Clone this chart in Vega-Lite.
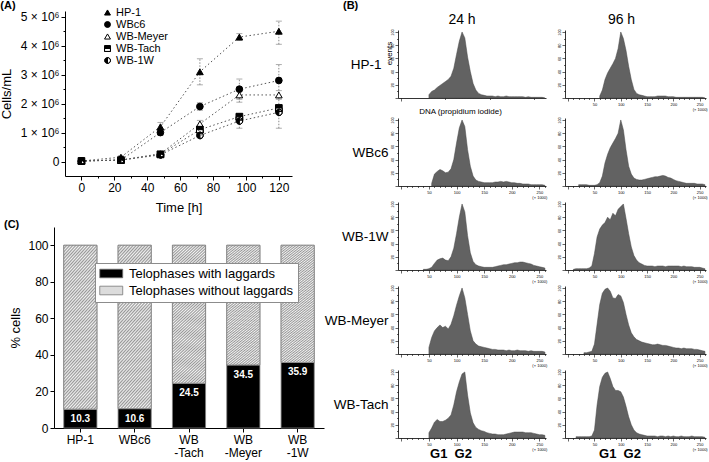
{
"$schema": "https://vega.github.io/schema/vega-lite/v6.json",
"padding": {"left": 0, "top": 0, "right": 0, "bottom": 0},
"spacing": 0,
"resolve": {"scale": {"fill": "independent", "shape": "independent", "stroke": "independent"}, "legend": {"fill": "independent", "shape": "independent", "stroke": "independent"}},
"config": {
  "font": "Liberation Sans",
  "view": {"stroke": null},
  "title": {"color": "black", "fontWeight": "normal"},
  "axis": {"grid": false, "labelOverlap": false, "domainColor": "black", "tickColor": "black", "labelColor": "black", "titleColor": "black", "titleFontWeight": "normal", "labelFont": "Liberation Sans", "titleFont": "Liberation Sans"}
},
"hconcat": [
{
  "title": {"text": "(A)", "anchor": "start", "fontSize": 11, "fontWeight": "bold", "offset": -4},
  "spacing": 5,
  "resolve": {"scale": {"fill": "independent", "shape": "independent", "stroke": "independent"}, "legend": {"fill": "independent", "shape": "independent", "stroke": "independent"}},
  "vconcat": [
  {
    "width": 238, "height": 165,
    "data": {"values": [
      {"s":"HP-1","t":0,"v":0.02,"lo":0,"hi":0.05},
      {"s":"HP-1","t":24,"v":0.15,"lo":0.1,"hi":0.2},
      {"s":"HP-1","t":48,"v":1.2,"lo":1.05,"hi":1.35},
      {"s":"HP-1","t":72,"v":3.1,"lo":2.65,"hi":3.55},
      {"s":"HP-1","t":96,"v":4.3,"lo":4.18,"hi":4.42},
      {"s":"HP-1","t":120,"v":4.5,"lo":4.05,"hi":4.85},
      {"s":"WBc6","t":0,"v":0.02,"lo":0,"hi":0.04},
      {"s":"WBc6","t":24,"v":0.05,"lo":0.02,"hi":0.08},
      {"s":"WBc6","t":48,"v":1.0,"lo":0.9,"hi":1.1},
      {"s":"WBc6","t":72,"v":1.9,"lo":1.77,"hi":2.03},
      {"s":"WBc6","t":96,"v":2.5,"lo":2.15,"hi":2.85},
      {"s":"WBc6","t":120,"v":2.8,"lo":2.25,"hi":3.35},
      {"s":"WB-Meyer","t":0,"v":0.02,"lo":0,"hi":0.04},
      {"s":"WB-Meyer","t":24,"v":0.05,"lo":0.02,"hi":0.08},
      {"s":"WB-Meyer","t":48,"v":0.27,"lo":0.2,"hi":0.34},
      {"s":"WB-Meyer","t":72,"v":1.3,"lo":1.2,"hi":1.42},
      {"s":"WB-Meyer","t":96,"v":2.3,"lo":2.05,"hi":2.5},
      {"s":"WB-Meyer","t":120,"v":2.3,"lo":2.15,"hi":2.45},
      {"s":"WB-Tach","t":0,"v":0.02,"lo":0,"hi":0.04},
      {"s":"WB-Tach","t":24,"v":0.05,"lo":0.02,"hi":0.08},
      {"s":"WB-Tach","t":48,"v":0.25,"lo":0.2,"hi":0.3},
      {"s":"WB-Tach","t":72,"v":1.1,"lo":1.0,"hi":1.2},
      {"s":"WB-Tach","t":96,"v":1.55,"lo":1.45,"hi":1.65},
      {"s":"WB-Tach","t":120,"v":1.85,"lo":1.75,"hi":1.95},
      {"s":"WB-1W","t":0,"v":0.02,"lo":0,"hi":0.04},
      {"s":"WB-1W","t":24,"v":0.05,"lo":0.02,"hi":0.08},
      {"s":"WB-1W","t":48,"v":0.23,"lo":0.17,"hi":0.29},
      {"s":"WB-1W","t":72,"v":0.9,"lo":0.82,"hi":0.98},
      {"s":"WB-1W","t":96,"v":1.4,"lo":1.15,"hi":1.65},
      {"s":"WB-1W","t":120,"v":1.7,"lo":1.15,"hi":2.2}
    ]},
    "encoding": {
      "x": {"field": "t", "type": "quantitative", "scale": {"domain": [-10, 128], "range": [11, 238], "nice": false, "zero": false},
        "axis": {"title": "Time [h]", "values": [0,10,20,30,40,50,60,70,80,90,100,110,120], "labelExpr": "datum.value % 20 == 0 ? datum.label : ''", "tickSize": {"condition": {"test": "datum.value % 20 == 0", "value": 4}, "value": 2}, "labelFontSize": 12, "titleFontSize": 13, "labelPadding": 2, "titlePadding": 8, "labelFlush": false}}
    },
    "layer": [
      {"mark": {"type": "line", "stroke": "#555555", "strokeWidth": 1, "strokeDash": [1.5, 2.5]},
       "encoding": {
         "y": {"field": "v", "type": "quantitative", "scale": {"domain": [-0.5, 5.2], "nice": false, "zero": false},
           "axis": {"title": "Cells/mL", "offset": -11, "values": [0,0.5,1,1.5,2,2.5,3,3.5,4,4.5,5], "labelExpr": "datum.value == 0 ? '0' : (datum.value % 1 == 0 ? datum.value + ' \u00d7 10\u2076' : '')", "tickSize": {"condition": {"test": "datum.value % 1 == 0", "value": 4}, "value": 2}, "labelFontSize": 12, "titleFontSize": 13, "labelPadding": 2, "titlePadding": 7, "labelFlush": false, "labelOverlap": {"expr": "false"}}},
         "detail": {"field": "s", "type": "nominal"}
       }},
      {"mark": {"type": "rule", "stroke": "#8a8a8a", "strokeWidth": 1, "strokeDash": [1.5, 1.5]},
       "encoding": {"y": {"field": "lo", "type": "quantitative",
           "axis": {"title": "Cells/mL", "offset": -11, "values": [0,0.5,1,1.5,2,2.5,3,3.5,4,4.5,5], "labelExpr": "datum.value == 0 ? '0' : (datum.value % 1 == 0 ? datum.value + ' \u00d7 10\u2076' : '')", "tickSize": {"condition": {"test": "datum.value % 1 == 0", "value": 4}, "value": 2}, "labelFontSize": 12, "titleFontSize": 13, "labelPadding": 2, "titlePadding": 7, "labelFlush": false, "labelOverlap": {"expr": "false"}}}, "y2": {"field": "hi"}}},
      {"mark": {"type": "tick", "orient": "horizontal", "color": "#8a8a8a", "size": 6, "thickness": 1},
       "encoding": {"y": {"field": "lo", "type": "quantitative",
           "axis": {"title": "Cells/mL", "offset": -11, "values": [0,0.5,1,1.5,2,2.5,3,3.5,4,4.5,5], "labelExpr": "datum.value == 0 ? '0' : (datum.value % 1 == 0 ? datum.value + ' \u00d7 10\u2076' : '')", "tickSize": {"condition": {"test": "datum.value % 1 == 0", "value": 4}, "value": 2}, "labelFontSize": 12, "titleFontSize": 13, "labelPadding": 2, "titlePadding": 7, "labelFlush": false, "labelOverlap": {"expr": "false"}}}}},
      {"mark": {"type": "tick", "orient": "horizontal", "color": "#8a8a8a", "size": 6, "thickness": 1},
       "encoding": {"y": {"field": "hi", "type": "quantitative",
           "axis": {"title": "Cells/mL", "offset": -11, "values": [0,0.5,1,1.5,2,2.5,3,3.5,4,4.5,5], "labelExpr": "datum.value == 0 ? '0' : (datum.value % 1 == 0 ? datum.value + ' \u00d7 10\u2076' : '')", "tickSize": {"condition": {"test": "datum.value % 1 == 0", "value": 4}, "value": 2}, "labelFontSize": 12, "titleFontSize": 13, "labelPadding": 2, "titlePadding": 7, "labelFlush": false, "labelOverlap": {"expr": "false"}}}}},
      {"mark": {"type": "point", "strokeWidth": 1, "opacity": 1, "size": 45},
       "encoding": {
         "y": {"field": "v", "type": "quantitative",
           "axis": {"title": "Cells/mL", "offset": -11, "values": [0,0.5,1,1.5,2,2.5,3,3.5,4,4.5,5], "labelExpr": "datum.value == 0 ? '0' : (datum.value % 1 == 0 ? datum.value + ' \u00d7 10\u2076' : '')", "tickSize": {"condition": {"test": "datum.value % 1 == 0", "value": 4}, "value": 2}, "labelFontSize": 12, "titleFontSize": 13, "labelPadding": 2, "titlePadding": 7, "labelFlush": false, "labelOverlap": {"expr": "false"}}},
         "shape": {"field": "s", "type": "nominal",
           "scale": {"domain": ["HP-1","WBc6","WB-Meyer","WB-Tach","WB-1W"], "range": ["triangle-up","circle","triangle-up","M-1,-1L1,-1L1,1L-1,1Z M-1,0L-1,1L1,1L1,0Z","M0,-1A1,1,0,0,1,0,1A1,1,0,0,1,0,-1Z M0,-1L0,1A1,1,0,0,0,0,-1Z"]},
           "legend": {"title": null, "orient": "none", "legendX": 48, "legendY": -4, "labelFontSize": 11, "symbolSize": 35, "labelOffset": 3, "rowPadding": 0, "symbolStrokeWidth": 1}},
         "fill": {"field": "s", "type": "nominal",
           "scale": {"domain": ["HP-1","WBc6","WB-Meyer","WB-Tach","WB-1W"], "range": ["black","black","white","black","black"]},
           "legend": {"title": null, "orient": "none", "legendX": 48, "legendY": -4, "labelFontSize": 11, "symbolSize": 35, "labelOffset": 3, "rowPadding": 0, "symbolStrokeWidth": 1}},
         "stroke": {"field": "s", "type": "nominal",
           "scale": {"domain": ["HP-1","WBc6","WB-Meyer","WB-Tach","WB-1W"], "range": ["black","black","black","black","black"]},
           "legend": {"title": null, "orient": "none", "legendX": 48, "legendY": -4, "labelFontSize": 11, "symbolSize": 35, "labelOffset": 3, "rowPadding": 0, "symbolStrokeWidth": 1}}
       }}
    ]
  },
  {
    "title": {"text": "(C)", "anchor": "start", "fontSize": 11, "fontWeight": "bold", "offset": -3, "dx": -6},
    "width": 270, "height": 201,
    "data": {"values": [
      {"c":"HP-1","g":"Telophases with laggards","lo":0,"hi":10.3},
      {"c":"HP-1","g":"Telophases without laggards","lo":10.3,"hi":100},
      {"c":"WBc6","g":"Telophases with laggards","lo":0,"hi":10.6},
      {"c":"WBc6","g":"Telophases without laggards","lo":10.6,"hi":100},
      {"c":"WB|-Tach","g":"Telophases with laggards","lo":0,"hi":24.5},
      {"c":"WB|-Tach","g":"Telophases without laggards","lo":24.5,"hi":100},
      {"c":"WB|-Meyer","g":"Telophases with laggards","lo":0,"hi":34.5},
      {"c":"WB|-Meyer","g":"Telophases without laggards","lo":34.5,"hi":100},
      {"c":"WB|-1W","g":"Telophases with laggards","lo":0,"hi":35.9},
      {"c":"WB|-1W","g":"Telophases without laggards","lo":35.9,"hi":100}
    ]},
    "encoding": {
      "x": {"field": "c", "type": "nominal", "sort": null,
        "scale": {"domain": ["HP-1","WBc6","WB|-Tach","WB|-Meyer","WB|-1W"], "paddingInner": 0.39, "paddingOuter": 0.18},
        "axis": {"title": null, "labelExpr": "split(datum.label, '|')", "labelAngle": 0, "labelFontSize": 12, "labelLineHeight": 13, "tickSize": 4, "labelPadding": 2}}
    },
    "layer": [
      {"mark": {"type": "bar", "stroke": "#808080", "strokeWidth": 0.8},
       "encoding": {
         "y": {"field": "lo", "type": "quantitative", "scale": {"domain": [0, 110], "nice": false},
           "axis": {"title": "% cells", "values": [0,10,20,30,40,50,60,70,80,90,100,110], "labelExpr": "datum.value % 20 == 0 && datum.value <= 100 ? datum.label : ''", "tickSize": {"condition": {"test": "datum.value % 20 == 0", "value": 4}, "value": 2}, "labelFontSize": 12, "titleFontSize": 13, "labelPadding": 2, "titlePadding": 5}},
         "y2": {"field": "hi"},
         "fill": {"field": "g", "type": "nominal",
           "scale": {"domain": ["Telophases with laggards","Telophases without laggards"], "range": ["black","#dcdcdc"]},
           "legend": {"title": null, "orient": "none", "legendX": 41, "legendY": 36, "fillColor": "white", "strokeColor": "#8c8c8c", "padding": 4, "labelFontSize": 13, "symbolType": "M-1,-0.75L3,-0.75L3,0.75L-1,0.75Z", "symbolSize": 132, "labelOffset": 17, "rowPadding": 3, "symbolStrokeColor": "#777777", "symbolStrokeWidth": 0.8, "labelLimit": 300}}
       }},
      {"transform": [{"filter": "datum.g == 'Telophases without laggards'"}],
       "mark": {"type": "bar", "stroke": "#808080", "strokeWidth": 0.8,
         "fill": {"gradient": "linear", "x1": 0, "y1": 0, "x2": 0.259, "y2": 1.165, "stops": [
{"offset":0,"color":"#979797"},{"offset":0.0083,"color":"#f3f3f3"},{"offset":0.0167,"color":"#979797"},{"offset":0.025,"color":"#f3f3f3"},{"offset":0.0333,"color":"#979797"},{"offset":0.0417,"color":"#f3f3f3"},{"offset":0.05,"color":"#979797"},{"offset":0.0583,"color":"#f3f3f3"},{"offset":0.0667,"color":"#979797"},{"offset":0.075,"color":"#f3f3f3"},
{"offset":0.0833,"color":"#979797"},{"offset":0.0917,"color":"#f3f3f3"},{"offset":0.1,"color":"#979797"},{"offset":0.1083,"color":"#f3f3f3"},{"offset":0.1167,"color":"#979797"},{"offset":0.125,"color":"#f3f3f3"},{"offset":0.1333,"color":"#979797"},{"offset":0.1417,"color":"#f3f3f3"},{"offset":0.15,"color":"#979797"},{"offset":0.1583,"color":"#f3f3f3"},
{"offset":0.1667,"color":"#979797"},{"offset":0.175,"color":"#f3f3f3"},{"offset":0.1833,"color":"#979797"},{"offset":0.1917,"color":"#f3f3f3"},{"offset":0.2,"color":"#979797"},{"offset":0.2083,"color":"#f3f3f3"},{"offset":0.2167,"color":"#979797"},{"offset":0.225,"color":"#f3f3f3"},{"offset":0.2333,"color":"#979797"},{"offset":0.2417,"color":"#f3f3f3"},
{"offset":0.25,"color":"#979797"},{"offset":0.2583,"color":"#f3f3f3"},{"offset":0.2667,"color":"#979797"},{"offset":0.275,"color":"#f3f3f3"},{"offset":0.2833,"color":"#979797"},{"offset":0.2917,"color":"#f3f3f3"},{"offset":0.3,"color":"#979797"},{"offset":0.3083,"color":"#f3f3f3"},{"offset":0.3167,"color":"#979797"},{"offset":0.325,"color":"#f3f3f3"},
{"offset":0.3333,"color":"#979797"},{"offset":0.3417,"color":"#f3f3f3"},{"offset":0.35,"color":"#979797"},{"offset":0.3583,"color":"#f3f3f3"},{"offset":0.3667,"color":"#979797"},{"offset":0.375,"color":"#f3f3f3"},{"offset":0.3833,"color":"#979797"},{"offset":0.3917,"color":"#f3f3f3"},{"offset":0.4,"color":"#979797"},{"offset":0.4083,"color":"#f3f3f3"},
{"offset":0.4167,"color":"#979797"},{"offset":0.425,"color":"#f3f3f3"},{"offset":0.4333,"color":"#979797"},{"offset":0.4417,"color":"#f3f3f3"},{"offset":0.45,"color":"#979797"},{"offset":0.4583,"color":"#f3f3f3"},{"offset":0.4667,"color":"#979797"},{"offset":0.475,"color":"#f3f3f3"},{"offset":0.4833,"color":"#979797"},{"offset":0.4917,"color":"#f3f3f3"},
{"offset":0.5,"color":"#979797"},{"offset":0.5083,"color":"#f3f3f3"},{"offset":0.5167,"color":"#979797"},{"offset":0.525,"color":"#f3f3f3"},{"offset":0.5333,"color":"#979797"},{"offset":0.5417,"color":"#f3f3f3"},{"offset":0.55,"color":"#979797"},{"offset":0.5583,"color":"#f3f3f3"},{"offset":0.5667,"color":"#979797"},{"offset":0.575,"color":"#f3f3f3"},
{"offset":0.5833,"color":"#979797"},{"offset":0.5917,"color":"#f3f3f3"},{"offset":0.6,"color":"#979797"},{"offset":0.6083,"color":"#f3f3f3"},{"offset":0.6167,"color":"#979797"},{"offset":0.625,"color":"#f3f3f3"},{"offset":0.6333,"color":"#979797"},{"offset":0.6417,"color":"#f3f3f3"},{"offset":0.65,"color":"#979797"},{"offset":0.6583,"color":"#f3f3f3"},
{"offset":0.6667,"color":"#979797"},{"offset":0.675,"color":"#f3f3f3"},{"offset":0.6833,"color":"#979797"},{"offset":0.6917,"color":"#f3f3f3"},{"offset":0.7,"color":"#979797"},{"offset":0.7083,"color":"#f3f3f3"},{"offset":0.7167,"color":"#979797"},{"offset":0.725,"color":"#f3f3f3"},{"offset":0.7333,"color":"#979797"},{"offset":0.7417,"color":"#f3f3f3"},
{"offset":0.75,"color":"#979797"},{"offset":0.7583,"color":"#f3f3f3"},{"offset":0.7667,"color":"#979797"},{"offset":0.775,"color":"#f3f3f3"},{"offset":0.7833,"color":"#979797"},{"offset":0.7917,"color":"#f3f3f3"},{"offset":0.8,"color":"#979797"},{"offset":0.8083,"color":"#f3f3f3"},{"offset":0.8167,"color":"#979797"},{"offset":0.825,"color":"#f3f3f3"},
{"offset":0.8333,"color":"#979797"},{"offset":0.8417,"color":"#f3f3f3"},{"offset":0.85,"color":"#979797"},{"offset":0.8583,"color":"#f3f3f3"},{"offset":0.8667,"color":"#979797"},{"offset":0.875,"color":"#f3f3f3"},{"offset":0.8833,"color":"#979797"},{"offset":0.8917,"color":"#f3f3f3"},{"offset":0.9,"color":"#979797"},{"offset":0.9083,"color":"#f3f3f3"},
{"offset":0.9167,"color":"#979797"},{"offset":0.925,"color":"#f3f3f3"},{"offset":0.9333,"color":"#979797"},{"offset":0.9417,"color":"#f3f3f3"},{"offset":0.95,"color":"#979797"},{"offset":0.9583,"color":"#f3f3f3"},{"offset":0.9667,"color":"#979797"},{"offset":0.975,"color":"#f3f3f3"},{"offset":0.9833,"color":"#979797"},{"offset":0.9917,"color":"#f3f3f3"},
{"offset":1,"color":"#979797"}
         ]}},
       "encoding": {"y": {"field": "lo", "type": "quantitative"}, "y2": {"field": "hi"}}},
      {"transform": [{"filter": "datum.g == 'Telophases with laggards'"}],
       "mark": {"type": "text", "color": "white", "fontWeight": "bold", "fontSize": 10, "dy": 10, "baseline": "middle"},
       "encoding": {"y": {"field": "hi", "type": "quantitative"}, "text": {"field": "hi", "type": "quantitative", "format": ".1f"}}}
    ]
  }
  ]
},
{
  "spacing": 0,
  "vconcat": [
  {
    "title": {"text": "(B)", "anchor": "start", "fontSize": 11, "fontWeight": "bold", "offset": 0, "dx": -55},
    "width": 1, "height": 1,
    "data": {"values": [{"a": 0}]},
    "mark": {"type": "point", "opacity": 0, "size": 0}
  },
  {
  "columns": 2,
  "align": "each",
  "spacing": {"row": 1, "column": 8},
  "concat": [
    {
      "title": {"text": "24 h", "fontSize": 14, "offset": 2, "frame": "group", "dx": -10},
      "width": 148, "height": 68,
      "data": {"values": [{"x":50,"y":5},{"x":55,"y":10},{"x":60,"y":12},{"x":65,"y":16},{"x":70,"y":19},{"x":75,"y":22},{"x":80,"y":25},{"x":85,"y":28},{"x":90,"y":33},{"x":95,"y":45},{"x":100,"y":66},{"x":105,"y":86},{"x":110,"y":100},{"x":115,"y":91},{"x":120,"y":62},{"x":125,"y":40},{"x":130,"y":22},{"x":135,"y":12},{"x":140,"y":7},{"x":145,"y":5},{"x":150,"y":4},{"x":155,"y":3},{"x":160,"y":3},{"x":165,"y":3},{"x":170,"y":2},{"x":175,"y":3},{"x":180,"y":2},{"x":185,"y":2},{"x":190,"y":3},{"x":195,"y":2},{"x":200,"y":2},{"x":205,"y":2},{"x":210,"y":2},{"x":215,"y":2},{"x":220,"y":2},{"x":225,"y":1},{"x":230,"y":2},{"x":235,"y":1},{"x":240,"y":1},{"x":245,"y":1},{"x":250,"y":1},{"x":255,"y":1},{"x":260,"y":0}]},
      "layer": [
        {"mark": {"type": "area", "interpolate": "linear", "fill": "#626262", "stroke": "#474747", "strokeWidth": 0.5},
         "encoding": {
           "x": {"field": "x", "type": "quantitative", "scale": {"domain": [-6, 262], "nice": false, "zero": false},
             "axis": {"title": "DNA (propidium iodide)", "titleFontSize": 8, "titleX": 62, "titleY": 15, "titleBaseline": "alphabetic", "titleAlign": "center", "values": [0,10,20,30,40,50,60,70,80,90,100,110,120,130,140,150,160,170,180,190,200,210,220,230,240,250,260], "labelExpr": "datum.value == 250 ? ['250', '(\u00d7 1000)'] : (datum.value % 50 == 0 && datum.value > 0 ? datum.label : '')", "labelFontSize": 4, "labelLineHeight": 5, "labelPadding": 1, "tickSize": {"condition": {"test": "datum.value % 50 == 0", "value": 3}, "value": 1.5}, "tickWidth": 0.6, "domainWidth": 0.8, "labelFlush": false}},
           "y": {"field": "y", "type": "quantitative", "scale": {"domain": [0, 103], "nice": false},
             "axis": {"title": "HP-1", "values": [0,10,20,30,40,50,60,70,80,90,100], "labelExpr": "datum.value % 20 == 0 && datum.value > 0 ? datum.label : ''", "labelFontSize": 4, "labelAngle": -90, "labelPadding": 1, "tickSize": {"condition": {"test": "datum.value % 20 == 0", "value": 3}, "value": 1.5}, "tickWidth": 0.6, "domainWidth": 0.8, "titleAngle": 0, "titleAlign": "right", "titleBaseline": "middle", "titleFontSize": 13.5, "titlePadding": 9, "labelFlush": false}}
         }},
        {"mark": {"type": "point", "opacity": 0},
         "encoding": {
           "x": {"field": "x", "type": "quantitative"},
           "y": {"field": "y", "type": "quantitative", "scale": {"domain": [0, 103], "nice": false},
             "axis": {"orient": "left", "title": "events", "labels": false, "ticks": false, "domain": false, "titleFontSize": 8, "titlePadding": 5, "titleY": 23}}
         }}
      ],
      "resolve": {"scale": {"y": "independent"}, "axis": {"y": "independent"}}
    },
    {
      "title": {"text": "96 h", "fontSize": 14, "offset": 2, "frame": "group", "dx": -14},
      "width": 141, "height": 68,
      "data": {"values": [{"x":60,"y":3},{"x":65,"y":12},{"x":70,"y":28},{"x":75,"y":38},{"x":80,"y":45},{"x":85,"y":52},{"x":90,"y":60},{"x":95,"y":75},{"x":100,"y":100},{"x":105,"y":90},{"x":110,"y":72},{"x":115,"y":48},{"x":120,"y":28},{"x":125,"y":13},{"x":130,"y":7},{"x":135,"y":5},{"x":140,"y":4},{"x":145,"y":3},{"x":150,"y":2},{"x":155,"y":2},{"x":160,"y":2},{"x":165,"y":2},{"x":170,"y":3},{"x":175,"y":3},{"x":180,"y":3},{"x":185,"y":3},{"x":190,"y":2},{"x":195,"y":2},{"x":200,"y":2},{"x":205,"y":1},{"x":210,"y":1},{"x":215,"y":1},{"x":220,"y":1},{"x":225,"y":1},{"x":230,"y":1},{"x":235,"y":1},{"x":240,"y":1},{"x":245,"y":1},{"x":250,"y":1},{"x":255,"y":1},{"x":260,"y":0}]},
      "mark": {"type": "area", "interpolate": "linear", "fill": "#626262", "stroke": "#474747", "strokeWidth": 0.5},
      "encoding": {
        "x": {"field": "x", "type": "quantitative", "scale": {"domain": [-6, 262], "nice": false, "zero": false},
          "axis": {"title": null, "values": [0,10,20,30,40,50,60,70,80,90,100,110,120,130,140,150,160,170,180,190,200,210,220,230,240,250,260], "labelExpr": "datum.value == 250 ? ['250', '(\u00d7 1000)'] : (datum.value % 50 == 0 && datum.value > 0 ? datum.label : '')", "labelFontSize": 4, "labelLineHeight": 5, "labelPadding": 1, "tickSize": {"condition": {"test": "datum.value % 50 == 0", "value": 3}, "value": 1.5}, "tickWidth": 0.6, "domainWidth": 0.8, "labelFlush": false}},
        "y": {"field": "y", "type": "quantitative", "scale": {"domain": [0, 103], "nice": false},
          "axis": {"title": null, "values": [0,10,20,30,40,50,60,70,80,90,100], "labelExpr": "datum.value % 20 == 0 && datum.value > 0 ? datum.label : ''", "labelFontSize": 4, "labelAngle": -90, "labelPadding": 1, "tickSize": {"condition": {"test": "datum.value % 20 == 0", "value": 3}, "value": 1.5}, "tickWidth": 0.6, "domainWidth": 0.8, "labelFlush": false}}
      }
    },
    {
      "width": 148, "height": 68,
      "data": {"values": [{"x":55,"y":4},{"x":60,"y":18},{"x":65,"y":22},{"x":70,"y":25},{"x":75,"y":23},{"x":80,"y":20},{"x":85,"y":21},{"x":90,"y":26},{"x":95,"y":40},{"x":100,"y":65},{"x":105,"y":88},{"x":110,"y":100},{"x":115,"y":90},{"x":120,"y":55},{"x":125,"y":30},{"x":130,"y":15},{"x":135,"y":9},{"x":140,"y":7},{"x":145,"y":6},{"x":150,"y":5},{"x":155,"y":5},{"x":160,"y":5},{"x":165,"y":5},{"x":170,"y":6},{"x":175,"y":6},{"x":180,"y":7},{"x":185,"y":6},{"x":190,"y":7},{"x":195,"y":6},{"x":200,"y":5},{"x":205,"y":5},{"x":210,"y":4},{"x":215,"y":4},{"x":220,"y":3},{"x":225,"y":3},{"x":230,"y":3},{"x":235,"y":2},{"x":240,"y":2},{"x":245,"y":2},{"x":250,"y":2},{"x":255,"y":2},{"x":260,"y":1}]},
      "mark": {"type": "area", "interpolate": "linear", "fill": "#626262", "stroke": "#474747", "strokeWidth": 0.5},
      "encoding": {
        "x": {"field": "x", "type": "quantitative", "scale": {"domain": [-6, 262], "nice": false, "zero": false},
          "axis": {"title": null, "values": [0,10,20,30,40,50,60,70,80,90,100,110,120,130,140,150,160,170,180,190,200,210,220,230,240,250,260], "labelExpr": "datum.value == 250 ? ['250', '(\u00d7 1000)'] : (datum.value % 50 == 0 && datum.value > 0 ? datum.label : '')", "labelFontSize": 4, "labelLineHeight": 5, "labelPadding": 1, "tickSize": {"condition": {"test": "datum.value % 50 == 0", "value": 3}, "value": 1.5}, "tickWidth": 0.6, "domainWidth": 0.8, "labelFlush": false}},
        "y": {"field": "y", "type": "quantitative", "scale": {"domain": [0, 103], "nice": false},
          "axis": {"title": "WBc6", "values": [0,10,20,30,40,50,60,70,80,90,100], "labelExpr": "datum.value % 20 == 0 && datum.value > 0 ? datum.label : ''", "labelFontSize": 4, "labelAngle": -90, "labelPadding": 1, "tickSize": {"condition": {"test": "datum.value % 20 == 0", "value": 3}, "value": 1.5}, "tickWidth": 0.6, "domainWidth": 0.8, "titleAngle": 0, "titleAlign": "right", "titleBaseline": "middle", "titleFontSize": 13.5, "titlePadding": 2, "labelFlush": false}}
      }
    },
    {
      "width": 141, "height": 68,
      "data": {"values": [{"x":20,"y":2},{"x":25,"y":2},{"x":30,"y":2},{"x":35,"y":2},{"x":40,"y":1},{"x":45,"y":1},{"x":50,"y":1},{"x":55,"y":2},{"x":60,"y":5},{"x":65,"y":15},{"x":70,"y":35},{"x":75,"y":48},{"x":80,"y":58},{"x":85,"y":65},{"x":90,"y":72},{"x":95,"y":80},{"x":100,"y":100},{"x":105,"y":85},{"x":110,"y":55},{"x":115,"y":30},{"x":120,"y":18},{"x":125,"y":12},{"x":130,"y":10},{"x":135,"y":9},{"x":140,"y":9},{"x":145,"y":10},{"x":150,"y":11},{"x":155,"y":12},{"x":160,"y":13},{"x":165,"y":14},{"x":170,"y":14},{"x":175,"y":15},{"x":180,"y":16},{"x":185,"y":15},{"x":190,"y":13},{"x":195,"y":12},{"x":200,"y":10},{"x":205,"y":8},{"x":210,"y":7},{"x":215,"y":6},{"x":220,"y":5},{"x":225,"y":4},{"x":230,"y":4},{"x":235,"y":4},{"x":240,"y":4},{"x":245,"y":3},{"x":250,"y":3},{"x":255,"y":3},{"x":260,"y":2}]},
      "mark": {"type": "area", "interpolate": "linear", "fill": "#626262", "stroke": "#474747", "strokeWidth": 0.5},
      "encoding": {
        "x": {"field": "x", "type": "quantitative", "scale": {"domain": [-6, 262], "nice": false, "zero": false},
          "axis": {"title": null, "values": [0,10,20,30,40,50,60,70,80,90,100,110,120,130,140,150,160,170,180,190,200,210,220,230,240,250,260], "labelExpr": "datum.value == 250 ? ['250', '(\u00d7 1000)'] : (datum.value % 50 == 0 && datum.value > 0 ? datum.label : '')", "labelFontSize": 4, "labelLineHeight": 5, "labelPadding": 1, "tickSize": {"condition": {"test": "datum.value % 50 == 0", "value": 3}, "value": 1.5}, "tickWidth": 0.6, "domainWidth": 0.8, "labelFlush": false}},
        "y": {"field": "y", "type": "quantitative", "scale": {"domain": [0, 103], "nice": false},
          "axis": {"title": null, "values": [0,10,20,30,40,50,60,70,80,90,100], "labelExpr": "datum.value % 20 == 0 && datum.value > 0 ? datum.label : ''", "labelFontSize": 4, "labelAngle": -90, "labelPadding": 1, "tickSize": {"condition": {"test": "datum.value % 20 == 0", "value": 3}, "value": 1.5}, "tickWidth": 0.6, "domainWidth": 0.8, "labelFlush": false}}
      }
    },
    {
      "width": 148, "height": 68,
      "data": {"values": [{"x":40,"y":1},{"x":45,"y":1},{"x":50,"y":2},{"x":55,"y":4},{"x":60,"y":10},{"x":65,"y":15},{"x":70,"y":17},{"x":75,"y":18},{"x":80,"y":15},{"x":85,"y":14},{"x":90,"y":20},{"x":95,"y":33},{"x":100,"y":55},{"x":105,"y":80},{"x":110,"y":100},{"x":115,"y":88},{"x":120,"y":52},{"x":125,"y":26},{"x":130,"y":13},{"x":135,"y":8},{"x":140,"y":6},{"x":145,"y":5},{"x":150,"y":4},{"x":155,"y":4},{"x":160,"y":4},{"x":165,"y":4},{"x":170,"y":5},{"x":175,"y":6},{"x":180,"y":7},{"x":185,"y":8},{"x":190,"y":8},{"x":195,"y":9},{"x":200,"y":10},{"x":205,"y":11},{"x":210,"y":11},{"x":215,"y":12},{"x":220,"y":12},{"x":225,"y":11},{"x":230,"y":10},{"x":235,"y":9},{"x":240,"y":7},{"x":245,"y":6},{"x":250,"y":5},{"x":255,"y":4},{"x":260,"y":3}]},
      "mark": {"type": "area", "interpolate": "linear", "fill": "#626262", "stroke": "#474747", "strokeWidth": 0.5},
      "encoding": {
        "x": {"field": "x", "type": "quantitative", "scale": {"domain": [-6, 262], "nice": false, "zero": false},
          "axis": {"title": null, "values": [0,10,20,30,40,50,60,70,80,90,100,110,120,130,140,150,160,170,180,190,200,210,220,230,240,250,260], "labelExpr": "datum.value == 250 ? ['250', '(\u00d7 1000)'] : (datum.value % 50 == 0 && datum.value > 0 ? datum.label : '')", "labelFontSize": 4, "labelLineHeight": 5, "labelPadding": 1, "tickSize": {"condition": {"test": "datum.value % 50 == 0", "value": 3}, "value": 1.5}, "tickWidth": 0.6, "domainWidth": 0.8, "labelFlush": false}},
        "y": {"field": "y", "type": "quantitative", "scale": {"domain": [0, 103], "nice": false},
          "axis": {"title": "WB-1W", "values": [0,10,20,30,40,50,60,70,80,90,100], "labelExpr": "datum.value % 20 == 0 && datum.value > 0 ? datum.label : ''", "labelFontSize": 4, "labelAngle": -90, "labelPadding": 1, "tickSize": {"condition": {"test": "datum.value % 20 == 0", "value": 3}, "value": 1.5}, "tickWidth": 0.6, "domainWidth": 0.8, "titleAngle": 0, "titleAlign": "right", "titleBaseline": "middle", "titleFontSize": 13.5, "titlePadding": 2, "labelFlush": false}}
      }
    },
    {
      "width": 141, "height": 68,
      "data": {"values": [{"x":10,"y":1},{"x":15,"y":2},{"x":20,"y":2},{"x":25,"y":2},{"x":30,"y":2},{"x":35,"y":2},{"x":40,"y":3},{"x":45,"y":6},{"x":50,"y":25},{"x":55,"y":50},{"x":60,"y":62},{"x":65,"y":68},{"x":70,"y":72},{"x":75,"y":80},{"x":80,"y":76},{"x":85,"y":86},{"x":90,"y":82},{"x":95,"y":92},{"x":100,"y":96},{"x":105,"y":100},{"x":110,"y":78},{"x":115,"y":55},{"x":120,"y":35},{"x":125,"y":22},{"x":130,"y":15},{"x":135,"y":11},{"x":140,"y":9},{"x":145,"y":7},{"x":150,"y":6},{"x":155,"y":6},{"x":160,"y":6},{"x":165,"y":5},{"x":170,"y":6},{"x":175,"y":6},{"x":180,"y":6},{"x":185,"y":5},{"x":190,"y":6},{"x":195,"y":6},{"x":200,"y":6},{"x":205,"y":6},{"x":210,"y":6},{"x":215,"y":5},{"x":220,"y":6},{"x":225,"y":5},{"x":230,"y":5},{"x":235,"y":5},{"x":240,"y":4},{"x":245,"y":4},{"x":250,"y":4},{"x":255,"y":3},{"x":260,"y":2}]},
      "mark": {"type": "area", "interpolate": "linear", "fill": "#626262", "stroke": "#474747", "strokeWidth": 0.5},
      "encoding": {
        "x": {"field": "x", "type": "quantitative", "scale": {"domain": [-6, 262], "nice": false, "zero": false},
          "axis": {"title": null, "values": [0,10,20,30,40,50,60,70,80,90,100,110,120,130,140,150,160,170,180,190,200,210,220,230,240,250,260], "labelExpr": "datum.value == 250 ? ['250', '(\u00d7 1000)'] : (datum.value % 50 == 0 && datum.value > 0 ? datum.label : '')", "labelFontSize": 4, "labelLineHeight": 5, "labelPadding": 1, "tickSize": {"condition": {"test": "datum.value % 50 == 0", "value": 3}, "value": 1.5}, "tickWidth": 0.6, "domainWidth": 0.8, "labelFlush": false}},
        "y": {"field": "y", "type": "quantitative", "scale": {"domain": [0, 103], "nice": false},
          "axis": {"title": null, "values": [0,10,20,30,40,50,60,70,80,90,100], "labelExpr": "datum.value % 20 == 0 && datum.value > 0 ? datum.label : ''", "labelFontSize": 4, "labelAngle": -90, "labelPadding": 1, "tickSize": {"condition": {"test": "datum.value % 20 == 0", "value": 3}, "value": 1.5}, "tickWidth": 0.6, "domainWidth": 0.8, "labelFlush": false}}
      }
    },
    {
      "width": 148, "height": 68,
      "data": {"values": [{"x":50,"y":10},{"x":55,"y":25},{"x":60,"y":35},{"x":65,"y":40},{"x":70,"y":44},{"x":75,"y":40},{"x":80,"y":42},{"x":85,"y":38},{"x":90,"y":45},{"x":95,"y":58},{"x":100,"y":74},{"x":105,"y":88},{"x":110,"y":100},{"x":115,"y":85},{"x":120,"y":60},{"x":125,"y":35},{"x":130,"y":20},{"x":135,"y":15},{"x":140,"y":12},{"x":145,"y":11},{"x":150,"y":10},{"x":155,"y":9},{"x":160,"y":8},{"x":165,"y":7},{"x":170,"y":7},{"x":175,"y":6},{"x":180,"y":6},{"x":185,"y":6},{"x":190,"y":5},{"x":195,"y":6},{"x":200,"y":5},{"x":205,"y":5},{"x":210,"y":6},{"x":215,"y":5},{"x":220,"y":5},{"x":225,"y":5},{"x":230,"y":4},{"x":235,"y":5},{"x":240,"y":4},{"x":245,"y":4},{"x":250,"y":4},{"x":255,"y":4},{"x":260,"y":3}]},
      "mark": {"type": "area", "interpolate": "linear", "fill": "#626262", "stroke": "#474747", "strokeWidth": 0.5},
      "encoding": {
        "x": {"field": "x", "type": "quantitative", "scale": {"domain": [-6, 262], "nice": false, "zero": false},
          "axis": {"title": null, "values": [0,10,20,30,40,50,60,70,80,90,100,110,120,130,140,150,160,170,180,190,200,210,220,230,240,250,260], "labelExpr": "datum.value == 250 ? ['250', '(\u00d7 1000)'] : (datum.value % 50 == 0 && datum.value > 0 ? datum.label : '')", "labelFontSize": 4, "labelLineHeight": 5, "labelPadding": 1, "tickSize": {"condition": {"test": "datum.value % 50 == 0", "value": 3}, "value": 1.5}, "tickWidth": 0.6, "domainWidth": 0.8, "labelFlush": false}},
        "y": {"field": "y", "type": "quantitative", "scale": {"domain": [0, 103], "nice": false},
          "axis": {"title": "WB-Meyer", "values": [0,10,20,30,40,50,60,70,80,90,100], "labelExpr": "datum.value % 20 == 0 && datum.value > 0 ? datum.label : ''", "labelFontSize": 4, "labelAngle": -90, "labelPadding": 1, "tickSize": {"condition": {"test": "datum.value % 20 == 0", "value": 3}, "value": 1.5}, "tickWidth": 0.6, "domainWidth": 0.8, "titleAngle": 0, "titleAlign": "right", "titleBaseline": "middle", "titleFontSize": 13.5, "titlePadding": 2, "labelFlush": false}}
      }
    },
    {
      "width": 141, "height": 68,
      "data": {"values": [{"x":30,"y":2},{"x":35,"y":2},{"x":40,"y":3},{"x":45,"y":4},{"x":50,"y":15},{"x":55,"y":45},{"x":60,"y":75},{"x":65,"y":92},{"x":70,"y":98},{"x":75,"y":100},{"x":80,"y":95},{"x":85,"y":85},{"x":90,"y":84},{"x":95,"y":90},{"x":100,"y":88},{"x":105,"y":78},{"x":110,"y":60},{"x":115,"y":44},{"x":120,"y":32},{"x":125,"y":26},{"x":130,"y":22},{"x":135,"y":20},{"x":140,"y":18},{"x":145,"y":17},{"x":150,"y":16},{"x":155,"y":15},{"x":160,"y":14},{"x":165,"y":14},{"x":170,"y":15},{"x":175,"y":14},{"x":180,"y":13},{"x":185,"y":13},{"x":190,"y":12},{"x":195,"y":11},{"x":200,"y":10},{"x":205,"y":9},{"x":210,"y":9},{"x":215,"y":8},{"x":220,"y":9},{"x":225,"y":8},{"x":230,"y":8},{"x":235,"y":8},{"x":240,"y":7},{"x":245,"y":7},{"x":250,"y":6},{"x":255,"y":5},{"x":260,"y":4}]},
      "mark": {"type": "area", "interpolate": "linear", "fill": "#626262", "stroke": "#474747", "strokeWidth": 0.5},
      "encoding": {
        "x": {"field": "x", "type": "quantitative", "scale": {"domain": [-6, 262], "nice": false, "zero": false},
          "axis": {"title": null, "values": [0,10,20,30,40,50,60,70,80,90,100,110,120,130,140,150,160,170,180,190,200,210,220,230,240,250,260], "labelExpr": "datum.value == 250 ? ['250', '(\u00d7 1000)'] : (datum.value % 50 == 0 && datum.value > 0 ? datum.label : '')", "labelFontSize": 4, "labelLineHeight": 5, "labelPadding": 1, "tickSize": {"condition": {"test": "datum.value % 50 == 0", "value": 3}, "value": 1.5}, "tickWidth": 0.6, "domainWidth": 0.8, "labelFlush": false}},
        "y": {"field": "y", "type": "quantitative", "scale": {"domain": [0, 103], "nice": false},
          "axis": {"title": null, "values": [0,10,20,30,40,50,60,70,80,90,100], "labelExpr": "datum.value % 20 == 0 && datum.value > 0 ? datum.label : ''", "labelFontSize": 4, "labelAngle": -90, "labelPadding": 1, "tickSize": {"condition": {"test": "datum.value % 20 == 0", "value": 3}, "value": 1.5}, "tickWidth": 0.6, "domainWidth": 0.8, "labelFlush": false}}
      }
    },
    {
      "width": 148, "height": 68,
      "data": {"values": [{"x":50,"y":8},{"x":55,"y":15},{"x":60,"y":24},{"x":65,"y":28},{"x":70,"y":25},{"x":75,"y":25},{"x":80,"y":27},{"x":85,"y":30},{"x":90,"y":35},{"x":95,"y":50},{"x":100,"y":70},{"x":105,"y":85},{"x":110,"y":97},{"x":115,"y":100},{"x":120,"y":65},{"x":125,"y":38},{"x":130,"y":23},{"x":135,"y":16},{"x":140,"y":13},{"x":145,"y":11},{"x":150,"y":10},{"x":155,"y":8},{"x":160,"y":7},{"x":165,"y":6},{"x":170,"y":6},{"x":175,"y":5},{"x":180,"y":5},{"x":185,"y":5},{"x":190,"y":6},{"x":195,"y":7},{"x":200,"y":8},{"x":205,"y":9},{"x":210,"y":9},{"x":215,"y":9},{"x":220,"y":9},{"x":225,"y":8},{"x":230,"y":8},{"x":235,"y":8},{"x":240,"y":7},{"x":245,"y":6},{"x":250,"y":5},{"x":255,"y":5},{"x":260,"y":4}]},
      "mark": {"type": "area", "interpolate": "linear", "fill": "#626262", "stroke": "#474747", "strokeWidth": 0.5},
      "encoding": {
        "x": {"field": "x", "type": "quantitative", "scale": {"domain": [-6, 262], "nice": false, "zero": false},
          "axis": {"title": "G1\u00a0\u00a0G2", "titleFontSize": 13, "titleFontWeight": "bold", "titleX": 52.5, "titleY": 19, "titleBaseline": "alphabetic", "titleAlign": "center", "values": [0,10,20,30,40,50,60,70,80,90,100,110,120,130,140,150,160,170,180,190,200,210,220,230,240,250,260], "labelExpr": "datum.value == 250 ? ['250', '(\u00d7 1000)'] : (datum.value % 50 == 0 && datum.value > 0 ? datum.label : '')", "labelFontSize": 4, "labelLineHeight": 5, "labelPadding": 1, "tickSize": {"condition": {"test": "datum.value % 50 == 0", "value": 3}, "value": 1.5}, "tickWidth": 0.6, "domainWidth": 0.8, "labelFlush": false}},
        "y": {"field": "y", "type": "quantitative", "scale": {"domain": [0, 103], "nice": false},
          "axis": {"title": "WB-Tach", "values": [0,10,20,30,40,50,60,70,80,90,100], "labelExpr": "datum.value % 20 == 0 && datum.value > 0 ? datum.label : ''", "labelFontSize": 4, "labelAngle": -90, "labelPadding": 1, "tickSize": {"condition": {"test": "datum.value % 20 == 0", "value": 3}, "value": 1.5}, "tickWidth": 0.6, "domainWidth": 0.8, "titleAngle": 0, "titleAlign": "right", "titleBaseline": "middle", "titleFontSize": 13.5, "titlePadding": 2, "labelFlush": false}}
      }
    },
    {
      "width": 141, "height": 68,
      "data": {"values": [{"x":15,"y":2},{"x":20,"y":2},{"x":25,"y":2},{"x":30,"y":2},{"x":35,"y":2},{"x":40,"y":2},{"x":45,"y":3},{"x":50,"y":12},{"x":55,"y":50},{"x":60,"y":78},{"x":65,"y":92},{"x":70,"y":98},{"x":75,"y":100},{"x":80,"y":90},{"x":85,"y":78},{"x":90,"y":72},{"x":95,"y":72},{"x":100,"y":70},{"x":105,"y":62},{"x":110,"y":48},{"x":115,"y":32},{"x":120,"y":20},{"x":125,"y":12},{"x":130,"y":8},{"x":135,"y":6},{"x":140,"y":5},{"x":145,"y":4},{"x":150,"y":3},{"x":155,"y":3},{"x":160,"y":3},{"x":165,"y":3},{"x":170,"y":2},{"x":175,"y":3},{"x":180,"y":3},{"x":185,"y":2},{"x":190,"y":3},{"x":195,"y":2},{"x":200,"y":3},{"x":205,"y":2},{"x":210,"y":2},{"x":215,"y":3},{"x":220,"y":2},{"x":225,"y":2},{"x":230,"y":2},{"x":235,"y":3},{"x":240,"y":2},{"x":245,"y":2},{"x":250,"y":2},{"x":255,"y":2},{"x":260,"y":1}]},
      "mark": {"type": "area", "interpolate": "linear", "fill": "#626262", "stroke": "#474747", "strokeWidth": 0.5},
      "encoding": {
        "x": {"field": "x", "type": "quantitative", "scale": {"domain": [-6, 262], "nice": false, "zero": false},
          "axis": {"title": "G1\u00a0\u00a0G2", "titleFontSize": 13, "titleFontWeight": "bold", "titleX": 54.5, "titleY": 19, "titleBaseline": "alphabetic", "titleAlign": "center", "values": [0,10,20,30,40,50,60,70,80,90,100,110,120,130,140,150,160,170,180,190,200,210,220,230,240,250,260], "labelExpr": "datum.value == 250 ? ['250', '(\u00d7 1000)'] : (datum.value % 50 == 0 && datum.value > 0 ? datum.label : '')", "labelFontSize": 4, "labelLineHeight": 5, "labelPadding": 1, "tickSize": {"condition": {"test": "datum.value % 50 == 0", "value": 3}, "value": 1.5}, "tickWidth": 0.6, "domainWidth": 0.8, "labelFlush": false}},
        "y": {"field": "y", "type": "quantitative", "scale": {"domain": [0, 103], "nice": false},
          "axis": {"title": null, "values": [0,10,20,30,40,50,60,70,80,90,100], "labelExpr": "datum.value % 20 == 0 && datum.value > 0 ? datum.label : ''", "labelFontSize": 4, "labelAngle": -90, "labelPadding": 1, "tickSize": {"condition": {"test": "datum.value % 20 == 0", "value": 3}, "value": 1.5}, "tickWidth": 0.6, "domainWidth": 0.8, "labelFlush": false}}
      }
    }
  ]
  }
  ]
}
]
}
